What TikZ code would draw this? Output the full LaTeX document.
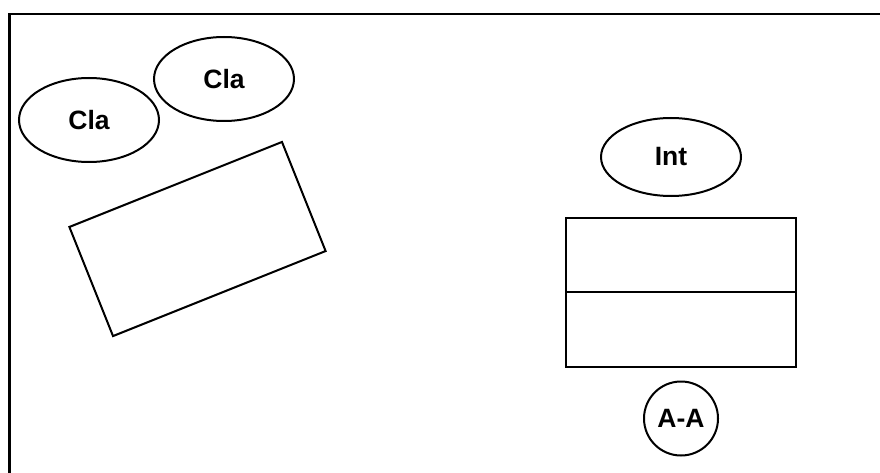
\documentclass[tikz,border=0pt]{standalone}
\usepackage{fontspec}
\setmainfont{Liberation Sans}
\usetikzlibrary{shapes.geometric}
\tikzset{
	oval/.style={draw, ellipse, line width=2pt, inner sep=0pt, minimum width=140pt, minimum height=84pt, font=\fontsize{26.5}{30}\selectfont\bfseries},
	box/.style={draw, rectangle, line width=2pt, inner sep=0pt},
}
\begin{document}
\begin{tikzpicture}[x=1pt,y=-1pt]
		\useasboundingbox (0,0) rectangle (880,473);
		\draw [line width=2.8pt] (9.5,473) -- (9.5,14) -- (880,14);
		\node [oval] (cla1) at(89,120) {Cla};
		\node [oval] (cla2) at(224,79) {Cla};
		\node [box, rotate=21.8, minimum width=229pt, minimum height=117.5pt] (tilt) at(197.5,239) {};
		\node [oval, minimum height=78pt] (int) at(671,157) {Int};
		\node [box, minimum width=230pt, minimum height=74pt] (upper) at(681,255) {};
		\node [box, minimum width=230pt, minimum height=75pt] (lower) at(681,329.5) {};
		\node [oval, circle, minimum size=74pt] (aa) at(681,418.5) {A-A};
	\end{tikzpicture}
\end{document}
